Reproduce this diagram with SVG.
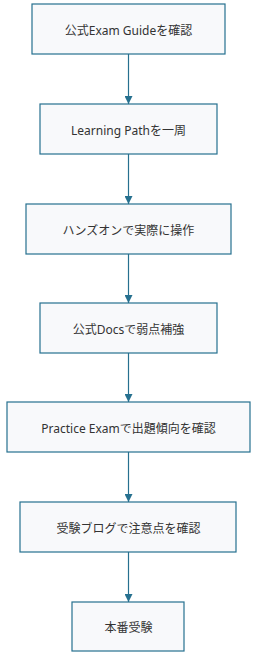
<svg xmlns="http://www.w3.org/2000/svg" width="257" height="657" viewBox="0 0 257 657">
<style>
.node rect{fill:#f8f9fb;stroke:#26708f;stroke-width:1.2}
.node text{font-family:"Noto Sans","Noto Sans CJK JP",sans-serif;font-size:12px;fill:#333;text-anchor:middle;dominant-baseline:central}
.edge{stroke:#26708f;stroke-width:1.2;fill:none;marker-end:url(#arr)}
</style>
<defs>
<marker id="arr" viewBox="0 0 10 10" refX="10" refY="5" markerWidth="8" markerHeight="8" markerUnits="userSpaceOnUse" orient="auto">
<path d="M0,0 L10,5 L0,10 z" fill="#26708f"/>
</marker>
</defs>
<g id="edges">
<line class="edge" x1="128.5" y1="54" x2="128.5" y2="104"/>
<line class="edge" x1="128.5" y1="154" x2="128.5" y2="204"/>
<line class="edge" x1="128.5" y1="254" x2="128.5" y2="303"/>
<line class="edge" x1="128.5" y1="353" x2="128.5" y2="402"/>
<line class="edge" x1="128.5" y1="452" x2="128.5" y2="502"/>
<line class="edge" x1="128.5" y1="552" x2="128.5" y2="602"/>
</g>
<g id="n1" class="node"><rect x="32" y="4" width="193" height="50"/><text x="128.5" y="30">公式Exam Guideを確認</text></g>
<g id="n2" class="node"><rect x="40" y="104" width="177" height="50"/><text x="128.5" y="130">Learning Pathを一周</text></g>
<g id="n3" class="node"><rect x="26" y="204" width="205" height="50"/><text x="128.5" y="230">ハンズオンで実際に操作</text></g>
<g id="n4" class="node"><rect x="40" y="303" width="177" height="50"/><text x="128.5" y="329">公式Docsで弱点補強</text></g>
<g id="n5" class="node"><rect x="7" y="402" width="243" height="50"/><text x="128.5" y="428">Practice Examで出題傾向を確認</text></g>
<g id="n6" class="node"><rect x="20" y="502" width="216" height="50"/><text x="128.5" y="528">受験ブログで注意点を確認</text></g>
<g id="n7" class="node"><rect x="72" y="602" width="112" height="49"/><text x="128.5" y="627">本番受験</text></g>
</svg>
